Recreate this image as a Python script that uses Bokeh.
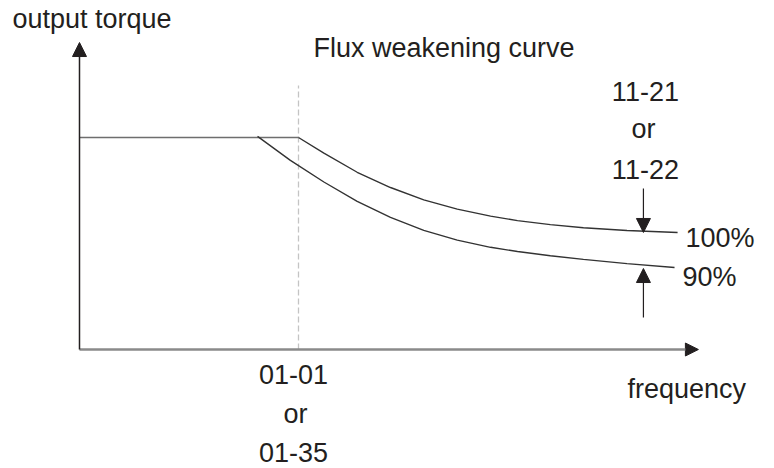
from bokeh.plotting import figure
from bokeh.models import Range1d, Arrow, NormalHead, ColumnDataSource
from bokeh.core.properties import value
from bokeh.embed import file_html
from bokeh.resources import INLINE

# ---- data (frequency relative to base frequency 01-01, torque relative to rated) ----
flat_freq = [0.0, 1.0]
flat_torque = [1.0, 1.0]

upper_freq = [1.0, 1.116, 1.268, 1.420, 1.572, 1.725, 1.877, 2.0, 2.15, 2.301, 2.5, 2.731]
upper_torque = [1.0, 0.926, 0.836, 0.764, 0.706, 0.662, 0.629, 0.608, 0.589, 0.574, 0.561, 0.552]

lower_freq = [0.813, 0.963, 1.116, 1.268, 1.420, 1.572, 1.725, 1.877, 2.0, 2.15, 2.301, 2.5, 2.717]
lower_torque = [1.005, 0.892, 0.790, 0.699, 0.623, 0.562, 0.516, 0.482, 0.462, 0.442, 0.425, 0.405, 0.387]

base_freq = 1.0
axis_x_max = 2.826
axis_y_max = 1.448
dash_top = 1.245

marker_freq = 2.575
down_arrow = (0.759, 0.552)
up_arrow = (0.151, 0.382)

# labels
left_labels = ["output torque", "Flux weakening curve", "100%", "90%", "frequency"]
left_x = [-0.306, 1.068, 2.767, 2.753, 2.502]
left_y = [1.561, 1.420, 0.524, 0.340, -0.184]

center_labels = ["11-21", "or", "11-22", "01-01", "or", "01-35"]
center_x = [2.584, 2.575, 2.584, 0.977, 0.986, 0.977]
center_y = [1.218, 1.038, 0.850, -0.118, -0.302, -0.486]

TEXT = "#231f20"
FONT = value("Liberation Sans")

p = figure(width=774, height=468, output_backend="svg", toolbar_location=None,
           x_axis_location=None, y_axis_location=None, min_border=0,
           x_range=Range1d(-0.3607, 3.1735), y_range=Range1d(-0.5613, 1.6462))
p.grid.visible = False
p.outline_line_color = None
p.background_fill_color = "white"
p.border_fill_color = "white"

# dashed base frequency line
p.line([base_freq, base_freq], [0, dash_top], line_color="#c4c4c4", line_width=1.3,
       line_dash="6 3")

# axes as arrows
p.add_layout(Arrow(x_start=0, y_start=0, x_end=axis_x_max, y_end=0,
                   line_color="#8a8a8a", line_width=2.5,
                   end=NormalHead(size=13, fill_color=TEXT, line_color=TEXT, line_width=1)))
p.add_layout(Arrow(x_start=0, y_start=0, x_end=0, y_end=axis_y_max,
                   line_color=TEXT, line_width=1.5,
                   end=NormalHead(size=14, fill_color=TEXT, line_color=TEXT, line_width=1)))

# curves
p.line(flat_freq, flat_torque, line_color="#6e6e6e", line_width=1.5)
p.line(upper_freq, upper_torque, line_color="#333333", line_width=1.4)
p.line(lower_freq, lower_torque, line_color="#333333", line_width=1.4)

# marker arrows
p.add_layout(Arrow(x_start=marker_freq, y_start=down_arrow[0], x_end=marker_freq, y_end=down_arrow[1],
                   line_color=TEXT, line_width=1.2,
                   end=NormalHead(size=14, fill_color=TEXT, line_color=TEXT, line_width=1)))
p.add_layout(Arrow(x_start=marker_freq, y_start=up_arrow[0], x_end=marker_freq, y_end=up_arrow[1],
                   line_color=TEXT, line_width=1.2,
                   end=NormalHead(size=14, fill_color=TEXT, line_color=TEXT, line_width=1)))

src_l = ColumnDataSource(dict(x=left_x, y=left_y, t=left_labels))
src_c = ColumnDataSource(dict(x=center_x, y=center_y, t=center_labels))
p.text(x="x", y="y", text="t", source=src_l, text_font=FONT, text_font_size="27px",
       text_color=TEXT, text_align="left", text_baseline="alphabetic")
p.text(x="x", y="y", text="t", source=src_c, text_font=FONT, text_font_size="27px",
       text_color=TEXT, text_align="center", text_baseline="alphabetic")

open("out.html", "w").write(file_html(p, INLINE))
